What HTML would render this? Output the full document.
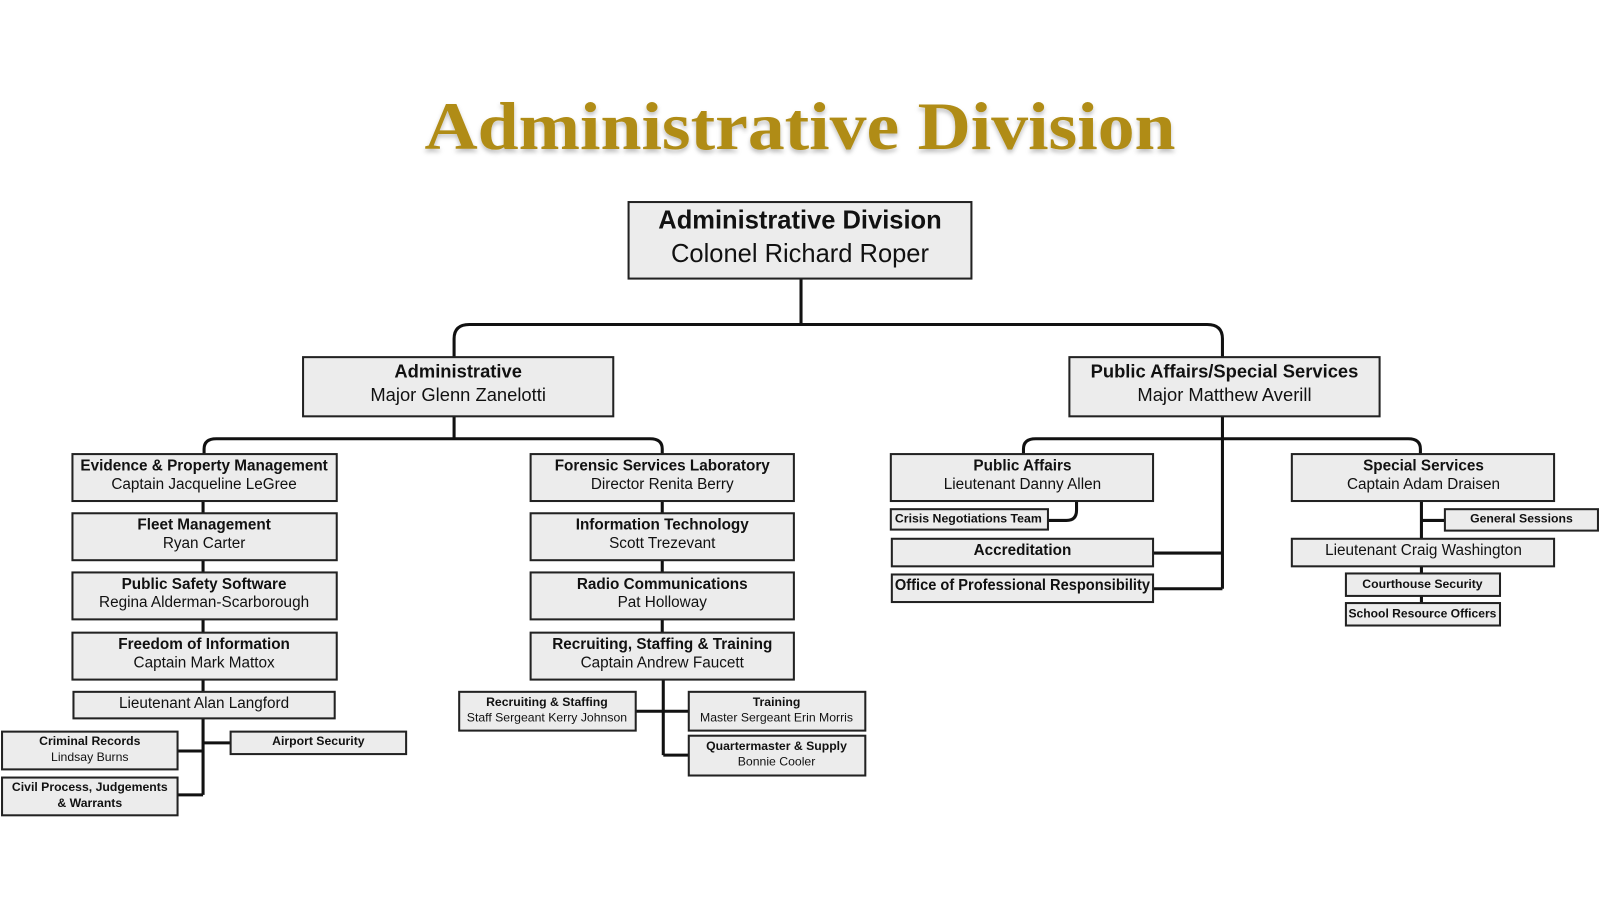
<!DOCTYPE html>
<html><head><meta charset="utf-8"><style>
html,body{margin:0;padding:0;background:#fff;}
svg{display:block}
text{font-family:"Liberation Sans",sans-serif;fill:#111;text-anchor:middle}
.b{font-weight:bold}
rect{fill:#ececec;stroke:#222;stroke-width:2}
.l{fill:none;stroke:#111;stroke-width:3}
</style></head><body>
<svg width="1600" height="900" viewBox="0 0 1568 882" xmlns="http://www.w3.org/2000/svg">
<defs><filter id="sh"><feDropShadow dx="0" dy="3" stdDeviation="2" flood-color="#000" flood-opacity="0.25"/></filter></defs>
<text x="784" y="146" filter="url(#sh)" style="font-family:'Liberation Serif',serif;font-weight:bold;font-size:66px;fill:#B08C14" textLength="736" lengthAdjust="spacingAndGlyphs">Administrative Division</text>

<!-- connectors -->
<path class="l" d="M785 273V318M445 350V332Q445 318 460 318H1183Q1198 318 1198 332V350"/>
<path class="l" d="M445 408V430M200 445V440Q200 430 212 430H637Q649 430 649 440V445"/>
<path class="l" d="M199 491V503M199 549V561M199 607V620M199 666V678M199 704V779M199 736H174M199 728H226M199 779H174"/>
<path class="l" d="M649 491V503M649 549V561M649 607V620M650 666V740M623 697H675M650 740H675"/>
<path class="l" d="M1198 408V577M1003 445V440Q1003 430 1015 430H1380Q1392 430 1392 440V445M1130 542H1198M1130 577H1198M1055 491V500Q1055 510 1045 510H1027"/>
<path class="l" d="M1393 491V528M1393 510H1416M1393 555V562M1393 584V591"/>

<!-- top -->
<rect x="616" y="198" width="336" height="75"/>
<text x="784" y="224" class="b" font-size="25">Administrative Division</text>
<text x="784" y="257" font-size="25">Colonel Richard Roper</text>

<rect x="297" y="350" width="304" height="58"/>
<text x="449" y="370" class="b" font-size="18">Administrative</text>
<text x="449" y="393" font-size="18">Major Glenn Zanelotti</text>
<rect x="1048" y="350" width="304" height="58"/>
<text x="1200" y="370" class="b" font-size="18">Public Affairs/Special Services</text>
<text x="1200" y="393" font-size="18">Major Matthew Averill</text>

<g font-size="15">
<rect x="71" y="445" width="259" height="46"/>
<text x="200" y="461" class="b">Evidence &amp; Property Management</text><text x="200" y="479">Captain Jacqueline LeGree</text>
<rect x="71" y="503" width="259" height="46"/>
<text x="200" y="519" class="b">Fleet Management</text><text x="200" y="537">Ryan Carter</text>
<rect x="71" y="561" width="259" height="46"/>
<text x="200" y="577" class="b">Public Safety Software</text><text x="200" y="595">Regina Alderman-Scarborough</text>
<rect x="71" y="620" width="259" height="46"/>
<text x="200" y="636" class="b">Freedom of Information</text><text x="200" y="654">Captain Mark Mattox</text>
<rect x="72" y="678" width="256" height="26"/>
<text x="200" y="694">Lieutenant Alan Langford</text>

<rect x="520" y="445" width="258" height="46"/>
<text x="649" y="461" class="b">Forensic Services Laboratory</text><text x="649" y="479">Director Renita Berry</text>
<rect x="520" y="503" width="258" height="46"/>
<text x="649" y="519" class="b">Information Technology</text><text x="649" y="537">Scott Trezevant</text>
<rect x="520" y="561" width="258" height="46"/>
<text x="649" y="577" class="b">Radio Communications</text><text x="649" y="595">Pat Holloway</text>
<rect x="520" y="620" width="258" height="46"/>
<text x="649" y="636" class="b">Recruiting, Staffing &amp; Training</text><text x="649" y="654">Captain Andrew Faucett</text>

<rect x="873" y="445" width="257" height="46"/>
<text x="1002" y="461" class="b">Public Affairs</text><text x="1002" y="479">Lieutenant Danny Allen</text>
<rect x="874" y="528" width="256" height="27"/>
<text x="1002" y="544" class="b">Accreditation</text>
<rect x="874" y="563" width="256" height="27"/>
<text x="1002" y="578" class="b" textLength="250" lengthAdjust="spacingAndGlyphs">Office of Professional Responsibility</text>

<rect x="1266" y="445" width="257" height="46"/>
<text x="1395" y="461" class="b">Special Services</text><text x="1395" y="479">Captain Adam Draisen</text>
<rect x="1266" y="528" width="257" height="27"/>
<text x="1395" y="544">Lieutenant Craig Washington</text>
</g>

<g font-size="12">
<rect x="2" y="717" width="172" height="37"/>
<text x="88" y="730" class="b">Criminal Records</text><text x="88" y="746">Lindsay Burns</text>
<rect x="2" y="762" width="172" height="37"/>
<text x="88" y="775" class="b">Civil Process, Judgements</text><text x="88" y="791" class="b">&amp; Warrants</text>
<rect x="226" y="717" width="172" height="22"/>
<text x="312" y="730" class="b">Airport Security</text>

<rect x="450" y="678" width="173" height="38"/>
<text x="536" y="692" class="b">Recruiting &amp; Staffing</text><text x="536" y="707">Staff Sergeant Kerry Johnson</text>
<rect x="675" y="678" width="173" height="38"/>
<text x="761" y="692" class="b">Training</text><text x="761" y="707">Master Sergeant Erin Morris</text>
<rect x="675" y="721" width="173" height="39"/>
<text x="761" y="735" class="b">Quartermaster &amp; Supply</text><text x="761" y="750">Bonnie Cooler</text>

<rect x="873" y="499" width="154" height="20"/>
<text x="949" y="512" class="b" textLength="144" lengthAdjust="spacingAndGlyphs">Crisis Negotiations Team</text>
<rect x="1416" y="499" width="150" height="21"/>
<text x="1491" y="512" class="b">General Sessions</text>
<rect x="1319" y="562" width="151" height="22"/>
<text x="1394" y="576" class="b">Courthouse Security</text>
<rect x="1319" y="591" width="151" height="22"/>
<text x="1394" y="605" class="b" textLength="145" lengthAdjust="spacingAndGlyphs">School Resource Officers</text>
</g>
</svg>
</body></html>
